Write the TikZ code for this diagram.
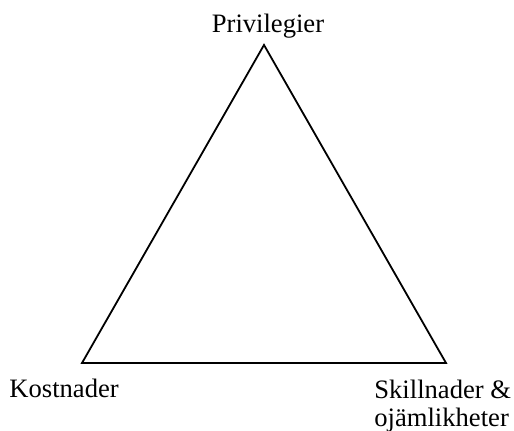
\documentclass[tikz,border=0pt]{standalone}
\usepackage{fontspec}
\setmainfont{Liberation Serif}
\begin{document}
\begin{tikzpicture}[x=0.5pt, y=-0.5pt,
    label text/.style={inner sep=0pt, font=\fontsize{13.3}{13.6}\selectfont}]
  % Fix the page to the reference size
  \useasboundingbox (0,0) rectangle (514,431);

  % Corners of the triangle
  \coordinate (top) at (264,45);
  \coordinate (left) at (82,363);
  \coordinate (right) at (446,363);

  % Triangle
  \draw[line width=0.9pt, line join=miter] (top) -- (right) -- (left) -- cycle;

  % Labels at the corners
  \node[label text, anchor=base] (priv) at (268,33) {Privilegier};
  \node[label text, anchor=base west] (kost) at (9,398) {Kostnader};
  \node[label text, anchor=north west, align=left] (skill) at (374,380) {Skillnader \&\\ojämlikheter};
\end{tikzpicture}
\end{document}
